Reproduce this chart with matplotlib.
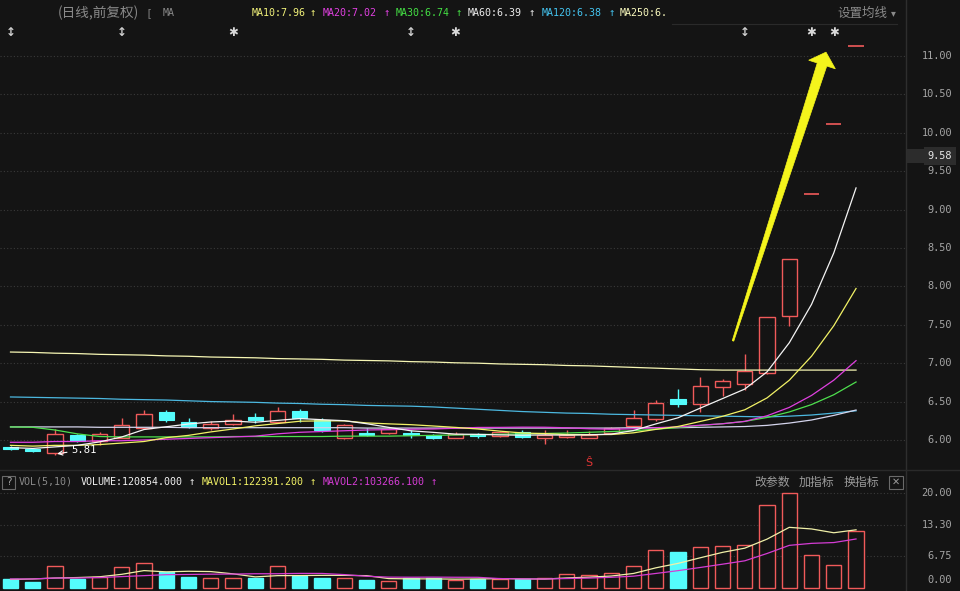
import matplotlib
matplotlib.use('Agg')
import matplotlib.pyplot as plt
from matplotlib.patches import Rectangle, Polygon
from matplotlib.lines import Line2D
import matplotlib.transforms as mtransforms
import numpy as np

# ---------------- data ----------------
opens = [5.91, 5.88, 5.835, 6.065, 5.99, 6.03, 6.16, 6.36, 6.23, 6.16, 6.21, 6.30, 6.24, 6.38, 6.26,
         6.03, 6.095, 6.09, 6.095, 6.065, 6.03, 6.08, 6.055, 6.10, 6.02, 6.035, 6.03, 6.09, 6.185,
         6.27, 6.53, 6.465, 6.695, 6.73, 6.87, 7.61, 9.20, 10.12, 11.13]
highs = [5.92, 5.89, 6.14, 6.08, 6.11, 6.28, 6.39, 6.39, 6.28, 6.25, 6.335, 6.35, 6.43, 6.40, 6.28,
         6.21, 6.15, 6.16, 6.13, 6.08, 6.10, 6.09, 6.12, 6.13, 6.13, 6.13, 6.12, 6.17, 6.39,
         6.52, 6.66, 6.82, 6.79, 7.12, 7.60, 8.36, 9.20, 10.12, 11.13]
lows = [5.87, 5.84, 5.81, 5.98, 5.93, 6.02, 6.14, 6.24, 6.16, 6.13, 6.20, 6.225, 6.23, 6.24, 6.11,
        6.01, 6.05, 6.08, 6.02, 6.01, 6.02, 6.03, 6.04, 6.03, 5.95, 6.02, 6.02, 6.08, 6.17,
        6.25, 6.43, 6.37, 6.57, 6.65, 6.86, 7.49, 9.20, 10.12, 11.13]
closes = [5.88, 5.85, 6.08, 5.99, 6.075, 6.20, 6.335, 6.26, 6.17, 6.205, 6.26, 6.26, 6.38, 6.29, 6.13,
          6.195, 6.065, 6.14, 6.065, 6.03, 6.08, 6.05, 6.105, 6.045, 6.06, 6.065, 6.07, 6.15, 6.28,
          6.48, 6.465, 6.70, 6.77, 6.90, 7.60, 8.36, 9.20, 10.12, 11.13]
# volume in 10k lots
volumes = [1.8, 1.3, 4.6, 1.8, 2.3, 4.4, 5.2, 3.3, 2.4, 2.0, 2.0, 2.0, 4.6, 2.5, 2.2,
           2.0, 1.7, 1.5, 2.2, 2.2, 1.7, 1.9, 1.9, 1.9, 2.0, 2.9, 2.7, 3.1, 4.6,
           7.9, 7.6, 8.6, 8.8, 9.0, 17.4, 20.0, 6.9, 4.8, 12.09]

ma5 = [5.90, 5.89, 5.91, 5.93, 5.975, 6.039, 6.136, 6.172, 6.208, 6.234, 6.246, 6.231, 6.255, 6.279,
       6.264, 6.251, 6.212, 6.164, 6.119, 6.099, 6.076, 6.073, 6.066, 6.062, 6.066, 6.063, 6.067,
       6.076, 6.123, 6.209, 6.289, 6.415, 6.539, 6.663, 6.887, 7.266, 7.766, 8.436, 9.282]
ma10 = [5.93, 5.92, 5.93, 5.93, 5.94, 5.96, 5.98, 6.03, 6.06, 6.105, 6.143, 6.184, 6.214, 6.244,
        6.249, 6.249, 6.222, 6.210, 6.199, 6.182, 6.164, 6.143, 6.115, 6.091, 6.083, 6.070, 6.070,
        6.071, 6.093, 6.138, 6.176, 6.241, 6.308, 6.393, 6.548, 6.778, 7.091, 7.488, 7.973]
ma20 = [5.97, 5.97, 5.98, 5.98, 5.99, 5.99, 6.00, 6.01, 6.02, 6.03, 6.04, 6.05, 6.08, 6.10,
        6.11, 6.12, 6.13, 6.135, 6.14, 6.143, 6.153, 6.163, 6.164, 6.167, 6.166, 6.159, 6.146,
        6.140, 6.146, 6.160, 6.170, 6.192, 6.211, 6.242, 6.315, 6.424, 6.580, 6.779, 7.033]
ma30 = [6.17, 6.165, 6.13, 6.08, 6.045, 6.04, 6.04, 6.04, 6.04, 6.04, 6.045, 6.045, 6.045, 6.045,
        6.045, 6.05, 6.05, 6.05, 6.055, 6.06, 6.065, 6.07, 6.075, 6.08, 6.085, 6.09, 6.10,
        6.11, 6.12, 6.141, 6.161, 6.189, 6.212, 6.242, 6.293, 6.365, 6.461, 6.589, 6.755]
ma60 = [6.17, 6.17, 6.17, 6.17, 6.165, 6.165, 6.165, 6.165, 6.16, 6.16, 6.16, 6.16, 6.16, 6.16,
        6.16, 6.16, 6.155, 6.155, 6.155, 6.155, 6.155, 6.155, 6.155, 6.155, 6.155, 6.155, 6.155,
        6.155, 6.16, 6.16, 6.16, 6.165, 6.17, 6.175, 6.19, 6.22, 6.26, 6.32, 6.39]
ma120 = [6.56, 6.555, 6.55, 6.545, 6.54, 6.53, 6.525, 6.52, 6.51, 6.50, 6.495, 6.49, 6.48, 6.475,
         6.465, 6.46, 6.45, 6.445, 6.44, 6.43, 6.415, 6.40, 6.385, 6.37, 6.36, 6.35, 6.345,
         6.335, 6.33, 6.325, 6.32, 6.315, 6.31, 6.305, 6.30, 6.31, 6.325, 6.35, 6.38]
ma250 = [7.145, 7.14, 7.13, 7.125, 7.115, 7.11, 7.105, 7.095, 7.09, 7.08, 7.075, 7.07, 7.06, 7.055,
         7.05, 7.04, 7.035, 7.03, 7.02, 7.015, 7.005, 7.0, 6.99, 6.985, 6.98, 6.97, 6.965,
         6.955, 6.945, 6.935, 6.925, 6.915, 6.91, 6.91, 6.91, 6.91, 6.91, 6.91, 6.91]
mavol5 = [1.8, 1.9, 2.1, 2.2, 2.36, 2.88, 3.66, 3.40, 3.52, 3.46, 2.98, 2.34, 2.60, 2.62, 2.66,
          2.66, 2.60, 1.98, 1.92, 1.92, 1.86, 1.90, 1.98, 1.92, 1.88, 2.12, 2.28, 2.52, 3.06,
          4.24, 5.18, 6.36, 7.50, 8.38, 10.28, 12.76, 12.42, 11.62, 12.24]
mavol10 = [1.9, 1.9, 2.1, 2.1, 2.2, 2.4, 2.6, 2.8, 2.85, 2.91, 2.93, 3.00, 3.00, 3.07, 3.06,
           2.82, 2.47, 2.29, 2.27, 2.29, 2.26, 2.25, 1.98, 1.92, 1.90, 1.99, 2.09, 2.25, 2.49,
           3.06, 3.65, 4.32, 5.01, 5.72, 7.26, 8.97, 9.39, 9.56, 10.31]

price_ticks = [6.00, 6.50, 7.00, 7.50, 8.00, 8.50, 9.00, 9.50, 10.00, 10.50, 11.00]
vol_ticks = [0.00, 6.75, 13.30, 20.00]
updown_marks = [0, 5, 18, 33]
star_marks = [10, 20, 36, 37]
dollar_marks = [26]
last_price = 9.58
arrow_tail = (32.47, 7.29)
arrow_tip = (36.65, 11.05)

ma_names = ["MA10:7.96", "MA20:7.02", "MA30:6.74", "MA60:6.39", "MA120:6.38", "MA250:6."]
vol_names = ["VOLUME:120854.000", "MAVOL1:122391.200", "MAVOL2:103266.100"]

# ---------------- style ----------------
BG = '#141414'
GRID = '#3a3a3a'
TXT = '#a4a4a4'
RED = '#f05a5a'
CYAN = '#54fcfc'
C_MA5 = '#f4f4f4'
C_MA10 = '#f2f266'
C_MA20 = '#e040e0'
C_MA30 = '#4ee04e'
C_MA60 = '#d4d4ec'
C_MA120 = '#4cb8e0'
C_MA250 = '#f6f6b4'
MONO = 'DejaVu Sans Mono'
CJK = ['Noto Sans CJK SC', 'DejaVu Sans']

W, H = 960, 591
fig = plt.figure(figsize=(9.6, 5.91), dpi=100)
fig.patch.set_facecolor(BG)


def fx(x):
    return x / W


def fy(y):
    return 1 - y / H


ax = fig.add_axes([0, fy(470), fx(905), 1 - fy(470)])
axv = fig.add_axes([0, 0, fx(905), fy(470)])
for a in (ax, axv):
    a.set_facecolor(BG)
    for s in a.spines.values():
        s.set_visible(False)
    a.tick_params(left=False, bottom=False, right=False, top=False,
                  labelleft=False, labelbottom=False)
    a.set_xlim(-0.472, 40.2)
ax.set_ylim(5.609, 11.729)
axv.set_ylim(-0.63, 24.82)

n = len(closes)
idx = np.arange(n)
bw = 0.68

# grid
for p in price_ticks:
    ax.axhline(p, color=GRID, lw=0.8, ls=(0, (1, 2)), zorder=0)
for v in vol_ticks[1:]:
    axv.axhline(v, color=GRID, lw=0.8, ls=(0, (1, 2)), zorder=0)

# candles
for i in range(n):
    o, hi, lo, c = opens[i], highs[i], lows[i], closes[i]
    if c > o:
        ax.add_patch(Rectangle((i - bw / 2, o), bw, c - o, fill=False, ec=RED, lw=1.0, zorder=3))
        ax.vlines(i, c, hi, color=RED, lw=1.0, zorder=3)
        ax.vlines(i, lo, o, color=RED, lw=1.0, zorder=3)
    elif c < o:
        ax.vlines(i, lo, hi, color=CYAN, lw=1.0, zorder=3)
        ax.add_patch(Rectangle((i - bw / 2, c), bw, o - c, fc=CYAN, ec=CYAN, lw=0.8, zorder=3))
    else:
        ax.hlines(c, i - bw / 2, i + bw / 2, color=RED, lw=1.2, zorder=3)

# moving averages
for vals, col in [(ma250, C_MA250), (ma120, C_MA120), (ma60, C_MA60), (ma30, C_MA30),
                  (ma20, C_MA20), (ma10, C_MA10), (ma5, C_MA5)]:
    ax.plot(idx, vals, color=col, lw=0.9, zorder=4)

# lowest low label
li = int(np.argmin(lows))
ax.annotate(f"{lows[li]:.2f}", xy=(li + 0.1, lows[li] + 0.01), xytext=(10, 3),
            textcoords='offset points', ha='left', va='center', color='white',
            fontsize=7.6, family=MONO, zorder=6,
            arrowprops=dict(arrowstyle='->', color='white', lw=0.8,
                            shrinkA=1, shrinkB=0))

# event markers on top of main chart
mk_tr = mtransforms.blended_transform_factory(ax.transData, ax.transAxes)
for i in updown_marks:
    ax.text(i, 1 - 32 / 470, '↕', transform=mk_tr, ha='center', va='center',
            color='#d0d0d0', fontsize=8.5, fontweight='bold', family='DejaVu Sans')
for i in star_marks:
    ax.text(i, 1 - 32 / 470, '✱', transform=mk_tr, ha='center', va='center',
            color='#d8d8d8', fontsize=8.5, family='DejaVu Sans')
for i in dollar_marks:
    ax.text(i, 1 - 463 / 470, 'Ŝ', transform=mk_tr, ha='center', va='center',
            color='#e03434', fontsize=8, family='DejaVu Sans')

# yellow drawn arrow (annotation), built in display space
T = ax.transData.transform(arrow_tail)
S = ax.transData.transform(arrow_tip)
d = S - T
u = d / np.hypot(*d)
nrm = np.array([-u[1], u[0]])
B = S - 13 * u
pts = [T - 0.8 * nrm, B - 5 * nrm, B - 14 * nrm, S, B + 14 * nrm, B + 5 * nrm, T + 0.8 * nrm]
fig.add_artist(Polygon(pts, closed=True, fc='#f4f41c', ec='#f4f41c', lw=0.5,
                       transform=mtransforms.IdentityTransform(), zorder=10))

# volume bars
ups = [closes[i] >= opens[i] for i in range(n)]
faces = [BG if up else CYAN for up in ups]
edges = [RED if up else CYAN for up in ups]
axv.bar(idx, volumes, width=bw, color=faces, edgecolor=edges, lw=1.0, zorder=3)
axv.plot(idx, mavol5, color='#f0f0a8', lw=0.9, zorder=4)
axv.plot(idx, mavol10, color='#d43cd4', lw=0.9, zorder=4)

# right axis labels
tr_main = mtransforms.blended_transform_factory(fig.transFigure, ax.transData)
for p in price_ticks:
    fig.text(fx(952), p, f"{p:.2f}", transform=tr_main, ha='right', va='center',
             color=TXT, fontsize=7.4, family=MONO)
tr_vol = mtransforms.blended_transform_factory(fig.transFigure, axv.transData)
for v in vol_ticks:
    t = tr_vol if v > 0 else mtransforms.offset_copy(tr_vol, fig=fig, y=8, units='dots')
    fig.text(fx(952), v, f"{v:.2f}", transform=t, ha='right', va='center',
             color=TXT, fontsize=7.4, family=MONO)

# last price tag
tag_tr = mtransforms.offset_copy(tr_main, fig=fig, y=9, units='dots')
fig.text(fx(952), last_price, f"{last_price:.2f}", transform=tag_tr, ha='right', va='center',
         color='#e6e6e6', fontsize=7.4, family=MONO, zorder=6,
         bbox=dict(boxstyle='square,pad=0.35', fc='#2c2c2c', ec='none'))
fig.add_artist(Rectangle((fx(907), fy(163)), fx(20), (163 - 149) / H,
                         transform=fig.transFigure, fc='#2c2c2c', ec='none', zorder=5))

# separators
fig.add_artist(Line2D([fx(906), fx(906)], [0, 1], color='#2e2e2e', lw=1.0))
fig.add_artist(Line2D([0, 1], [fy(470), fy(470)], color='#2a2a2a', lw=1.0))
fig.add_artist(Line2D([fx(672), fx(897)], [fy(23.5), fy(23.5)], color='#2a2a2a', lw=0.8))

# header of main chart
HY = fy(13)
fig.text(fx(58), HY, '(日线,前复权)', ha='left', va='center', color='#8a8a8a',
         fontsize=9.8, family=CJK)
fig.text(fx(145), HY, '[', ha='left', va='center', color='#7a7a7a', fontsize=8, family=MONO)
fig.text(fx(163), HY, 'MA', ha='left', va='center', color='#8a8a8a', fontsize=7.2, family=MONO)
ma_x = [252, 322.7, 395.7, 468, 541.7, 620]
ar_x = [313, 387, 459, 532, 611.7, None]
ma_cols = ['#f2f27a', '#e040e0', '#44e044', '#ececec', '#44c4f0', '#fafabe']
for name, x, axx, col in zip(ma_names, ma_x, ar_x, ma_cols):
    fig.text(fx(x), HY, name, ha='left', va='center', color=col, fontsize=7.2, family=MONO)
    if axx is not None:
        fig.text(fx(axx), HY, '↑', ha='center', va='center', color=col, fontsize=7.6,
                 family=MONO)
fig.text(fx(837), HY, '设置均线', ha='left', va='center', color='#8a8a8a',
         fontsize=9, family=CJK)
fig.text(fx(893), HY, '▾', ha='center', va='center', color='#8a8a8a', fontsize=7,
         family='DejaVu Sans')

# header of volume panel
VY = fy(482)
fig.add_artist(Rectangle((fx(2), fy(489)), fx(13), 13 / H, transform=fig.transFigure,
                         fill=False, ec='#6a6a6a', lw=0.8))
fig.text(fx(8.5), VY, '?', ha='center', va='center', color='#a0a0a0', fontsize=7.5,
         family='DejaVu Sans')
fig.text(fx(19), VY, 'VOL(5,10)', ha='left', va='center', color='#8a8a8a', fontsize=7.2,
         family=MONO)
v_x = [81, 202, 323]
v_ar = [192, 313, 434]
v_cols = ['#f0f0f0', '#f2f266', '#d43cd4']
for name, x, axx, col in zip(vol_names, v_x, v_ar, v_cols):
    fig.text(fx(x), VY, name, ha='left', va='center', color=col, fontsize=7.2, family=MONO)
    fig.text(fx(axx), VY, '↑', ha='center', va='center', color=col, fontsize=7.6, family=MONO)
for s, x in [('改参数', 754), ('加指标', 799), ('换指标', 844)]:
    fig.text(fx(x), VY, s, ha='left', va='center', color='#9a9a9a', fontsize=8.6, family=CJK)
fig.add_artist(Rectangle((fx(889), fy(489)), fx(14), 13 / H, transform=fig.transFigure,
                         fill=False, ec='#6a6a6a', lw=0.8))
fig.text(fx(896), VY, '✕', ha='center', va='center', color='#9a9a9a', fontsize=7,
         family='DejaVu Sans')

fig.savefig('out.png', dpi=100, facecolor=BG)
